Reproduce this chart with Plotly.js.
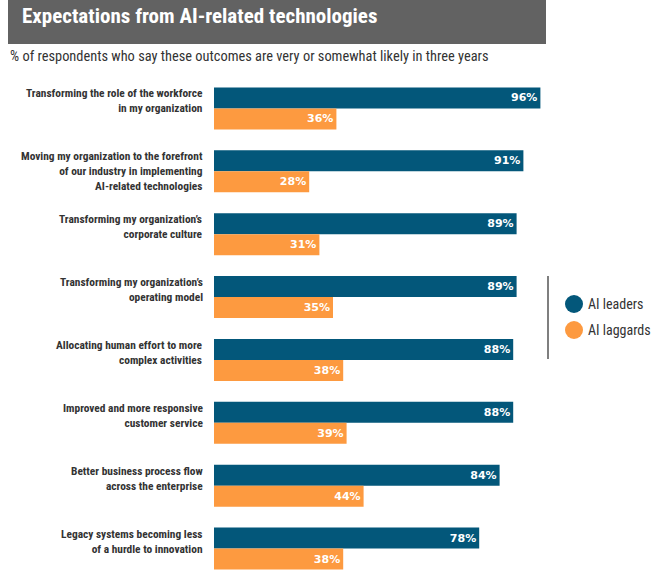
<!DOCTYPE html>
<html>
<head>
<meta charset="utf-8">
<script src="https://cdn.plot.ly/plotly-3.0.1.min.js"></script>
<style>
  html, body { margin: 0; padding: 0; background: #ffffff; }
  #chart { width: 666px; height: 580px; }
</style>
</head>
<body>
<div id="chart"></div>
<script>
// Outcomes (top to bottom) and the share of respondents in each group
const outcomes = [
  "Transforming the role of the workforce<br>in my organization",
  "Moving my organization to the forefront<br>of our industry in implementing<br>AI-related technologies",
  "Transforming my organization’s<br>corporate culture",
  "Transforming my organization’s<br>operating model",
  "Allocating human effort to more<br>complex activities",
  "Improved and more responsive<br>customer service",
  "Better business process flow<br>across the enterprise",
  "Legacy systems becoming less<br>of a hurdle to innovation"
];
const leaders  = [96, 91, 89, 89, 88, 88, 84, 78];
const laggards = [36, 28, 31, 35, 38, 39, 44, 38];
const seriesNames = ["AI leaders", "AI laggards"];
const seriesColors = ["#03577a", "#fd9a40"];

const chartTitle = "Expectations from AI-related technologies";
const chartSubtitle = "% of respondents who say these outcomes are very or somewhat likely in three years";

// plot area in pixels
const W0 = 666, H0 = 580;
const M = { l: 214, r: 0, t: 77, b: 0 };
const PW = W0 - M.l - M.r, PH = H0 - M.t - M.b;
const px = x => (x - M.l) / PW;
const py = y => (H0 - M.b - y) / PH;

const narrow = "'Liberation Sans Narrow', 'Arial Narrow', 'Roboto Condensed', sans-serif";

const traces = [leaders, laggards].map((vals, i) => ({
  type: "bar",
  orientation: "h",
  name: seriesNames[i],
  y: outcomes,
  x: vals,
  marker: { color: seriesColors[i] },
  text: vals.map(v => v + "%"),
  textposition: "inside",
  insidetextanchor: "end",
  textfont: { family: "'DejaVu Sans', sans-serif", size: 11, color: "#ffffff", weight: 700 },
  hoverinfo: "skip",
  showlegend: false
}));

const annotations = [];
// subtitle
annotations.push({
  xref: "paper", yref: "paper", x: px(8), y: py(57),
  xanchor: "left", yanchor: "middle", showarrow: false,
  text: chartSubtitle,
  font: { family: narrow, size: 14.4, color: "#333333" }
});
// category labels, right-aligned to the left of the bars
outcomes.forEach(label => {
  annotations.push({
    xref: "paper", yref: "y", x: 0, y: label,
    xanchor: "right", yanchor: "top", align: "right",
    xshift: -9, yshift: 24, showarrow: false,
    text: label,
    font: { family: narrow, size: 11.4, color: "#333333", weight: 700 }
  });
});
// legend text
seriesNames.forEach((name, i) => {
  annotations.push({
    xref: "paper", yref: "paper", x: px(586), y: py(304 + 26 * i),
    xanchor: "left", yanchor: "middle", showarrow: false,
    text: name,
    font: { family: narrow, size: 14, color: "#333333" }
  });
});

const shapes = [
  // title banner
  { type: "rect", xref: "paper", yref: "paper",
    x0: px(8), x1: px(546), y0: py(44), y1: py(0),
    fillcolor: "#626262", line: { width: 0 }, layer: "below" },
  // legend divider
  { type: "line", xref: "paper", yref: "paper",
    x0: px(548), x1: px(548), y0: py(276), y1: py(359),
    line: { color: "#555555", width: 1.5 } }
];
// legend swatches
seriesColors.forEach((c, i) => {
  shapes.push({
    type: "circle", xref: "paper", yref: "paper",
    xsizemode: "pixel", ysizemode: "pixel",
    xanchor: px(574), yanchor: py(304 + 26 * i),
    x0: -9, x1: 9, y0: -9, y1: 9,
    fillcolor: c, line: { width: 0 }
  });
});

const layout = {
  width: W0, height: H0,
  margin: M,
  paper_bgcolor: "#ffffff",
  plot_bgcolor: "#ffffff",
  barmode: "group",
  bargap: 0.333,
  bargroupgap: 0,
  title: {
    text: chartTitle,
    xref: "container", yref: "container",
    x: 22 / W0, xanchor: "left",
    y: 1 - 16 / H0, yanchor: "middle",
    font: { family: narrow, size: 21, color: "#ffffff", weight: 700 }
  },
  xaxis: {
    range: [0, PW / 3.4],
    showgrid: false, zeroline: false, showline: false,
    showticklabels: false, ticks: "", fixedrange: true
  },
  yaxis: {
    autorange: "reversed",
    showgrid: false, zeroline: false, showline: false,
    showticklabels: false, ticks: "", fixedrange: true
  },
  annotations: annotations,
  shapes: shapes,
  uniformtext: { mode: "show", minsize: 8 }
};

Plotly.newPlot("chart", traces, layout, { displayModeBar: false, staticPlot: true });
</script>
</body>
</html>
